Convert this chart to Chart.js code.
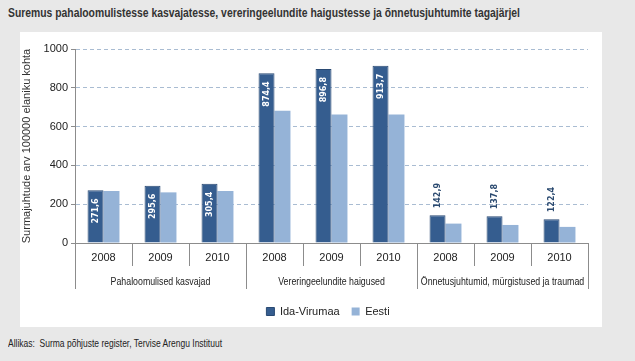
<!DOCTYPE html>
<html>
<head>
<meta charset="utf-8">
<script src="https://cdn.jsdelivr.net/npm/chart.js@4/dist/chart.umd.min.js"></script>
<style>
  html, body { margin: 0; padding: 0; }
  body { width: 635px; height: 361px; background: #e8e8e8; position: relative; overflow: hidden;
         font-family: "Liberation Sans", Arial, sans-serif; color: #222; }
  .squeeze { position: absolute; white-space: nowrap; transform-origin: 0 0; }
  #title { left: 8px; top: 5px; font-size: 13px; font-weight: bold; color: #333; }
  #panel { position: absolute; left: 20px; top: 32px; width: 582px; height: 295px; background: #fff; }
  #source { left: 8px; top: 337px; font-size: 11px; color: #222; }
</style>
</head>
<body>
<div id="title" class="squeeze" data-w="512">Suremus pahaloomulistesse kasvajatesse, vereringeelundite haigustesse ja õnnetusjuhtumite tagajärjel</div>
<div id="panel"><canvas id="chart" width="582" height="295"></canvas></div>
<div id="source" class="squeeze" data-w="214">Allikas:&nbsp; Surma põhjuste register, Tervise Arengu Instituut</div>
<script>
// chart data
const years = ['2008', '2009', '2010', '2008', '2009', '2010', '2008', '2009', '2010'];
const groups = ['Pahaloomulised kasvajad', 'Vereringeelundite haigused', 'Önnetusjuhtumid, mürgistused ja traumad'];
const idaVirumaa = [271.6, 295.6, 305.4, 874.4, 896.8, 913.7, 142.9, 137.8, 122.4];
const eesti = [268, 261, 268, 682, 662, 662, 100, 93, 83];
const yTicks = [0, 200, 400, 600, 800, 1000];

const FONT = '"Liberation Sans", Arial, sans-serif';

// squeeze html text to the narrow width of the original font
document.querySelectorAll('.squeeze').forEach(el => {
  const w = el.getBoundingClientRect().width;
  el.style.transform = 'scaleX(' + (Number(el.dataset.w) / w) + ')';
});

// vertical separators under the category axis + group names
const separatorPlugin = {
  id: 'separators',
  afterLayout(chart) {
    // legend sits a bit right of centre and slightly lower in the original
    const lg = chart.legend;
    lg.left += 24; lg.right += 24;
    lg.top += 3; lg.bottom += 3;
    lg.adjustHitBoxes();
  },
  afterDraw(chart) {
    const x = chart.scales.x, x2 = chart.scales.x2;
    const ctx = chart.ctx;
    const n = years.length;
    ctx.save();
    ctx.strokeStyle = '#8c8c8c';
    ctx.lineWidth = 1;
    for (let i = 0; i <= n; i++) {
      const px = Math.round(x.left + i * x.width / n) + 0.5;
      const bottom = (i % 3 === 0) ? x2.bottom - 2 : x.bottom;
      ctx.beginPath();
      ctx.moveTo(px, x.top);
      ctx.lineTo(px, bottom);
      ctx.stroke();
    }
    // group labels, condensed
    ctx.font = '11px ' + FONT;
    ctx.fillStyle = '#222';
    ctx.textAlign = 'center';
    ctx.textBaseline = 'middle';
    groups.forEach((g, i) => {
      ctx.save();
      ctx.translate(x2.getPixelForValue(i), x2.top + 16);
      ctx.scale(0.8, 1);
      ctx.fillText(g, 0, 0);
      ctx.restore();
    });
    ctx.restore();
  }
};

// rotated value labels on the Ida-Virumaa bars
const valueLabelPlugin = {
  id: 'valueLabels',
  afterDatasetsDraw(chart) {
    const ctx = chart.ctx;
    const meta = chart.getDatasetMeta(0);
    ctx.save();
    ctx.font = 'bold 8px "DejaVu Sans", Verdana, sans-serif';
    ctx.textBaseline = 'middle';
    meta.data.forEach((bar, i) => {
      const v = idaVirumaa[i];
      const txt = v.toFixed(1).replace('.', ',');
      ctx.save();
      if (v > 200) {
        ctx.translate(bar.x, bar.y + 8);
        ctx.rotate(-Math.PI / 2);
        ctx.textAlign = 'right';
        ctx.fillStyle = '#ffffff';
      } else {
        ctx.translate(bar.x, bar.y - 7);
        ctx.rotate(-Math.PI / 2);
        ctx.textAlign = 'left';
        ctx.fillStyle = '#2b4a70';
      }
      ctx.fillText(txt, 0, 0);
      ctx.restore();
    });
    ctx.restore();
  }
};

new Chart(document.getElementById('chart'), {
  type: 'bar',
  data: {
    labels: years,
    datasets: [
      { label: 'Ida-Virumaa', data: idaVirumaa, backgroundColor: '#355d8f', borderColor: '#2a4a73', borderWidth: 1, xAxisID: 'x' },
      { label: 'Eesti', data: eesti, backgroundColor: '#95b3d7', borderWidth: 0, xAxisID: 'x' }
    ]
  },
  options: {
    responsive: false,
    animation: false,
    categoryPercentage: 0.56,
    barPercentage: 1.0,
    layout: { padding: { top: 17, right: 14, left: 0, bottom: 3 } },
    scales: {
      y: {
        min: 0, max: 1000,
        afterBuildTicks: s => { s.ticks = yTicks.map(v => ({ value: v })); },
        afterFit: s => { s.width = 55; },
        ticks: { font: { family: FONT, size: 11 }, color: '#222', padding: 3, callback: v => String(v) },
        grid: { color: '#a9bcd2', tickColor: '#8c8c8c', tickLength: 4, lineWidth: 1 },
        border: { display: true, color: '#8c8c8c', dash: [4, 3] },
        title: { display: true, text: 'Surmajuhtude arv 100000 elaniku kohta', font: { family: FONT, size: 11 }, color: '#333', padding: { top: 0, bottom: 4 } }
      },
      x: {
        type: 'category',
        labels: years,
        offset: true,
        position: 'bottom',
        afterFit: s => { s.height = 23; },
        grid: { display: false, drawTicks: false },
        border: { display: true, color: '#8c8c8c' },
        ticks: { font: { family: FONT, size: 11 }, color: '#222', padding: 8, maxRotation: 0, autoSkip: false }
      },
      x2: {
        type: 'category',
        labels: groups,
        offset: true,
        position: 'bottom',
        afterFit: s => { s.height = 25; },
        grid: { display: false, drawTicks: false },
        border: { display: false },
        ticks: { display: false }
      }
    },
    plugins: {
      legend: {
        position: 'bottom',
        labels: { boxWidth: 8, boxHeight: 8, padding: 12, font: { family: FONT, size: 11 }, color: '#222' }
      },
      tooltip: { enabled: false }
    }
  },
  plugins: [separatorPlugin, valueLabelPlugin]
});
</script>
</body>
</html>
